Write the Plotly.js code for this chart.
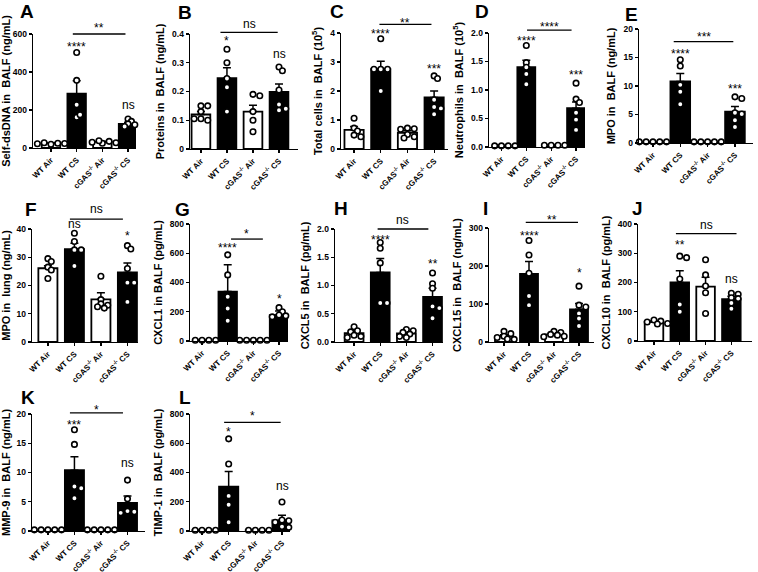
<!DOCTYPE html>
<html><head><meta charset="utf-8">
<script src="https://cdn.plot.ly/plotly-3.0.1.min.js"></script>
<style>body{margin:0;background:#fff}</style>
</head><body><div id="chart" style="width:758px;height:572px"></div>
<script>
// ---------- categories ----------
const groups = ['WT Air', 'WT CS', 'cGAS<sup>-/-</sup> Air', 'cGAS<sup>-/-</sup> CS'];
const letters = ['A','B','C','D','E','F','G','H','I','J','K','L'];
const yTitles = [
  'Self-dsDNA in  BALF (ng/mL)', 'Proteins in  BALF (ng/mL)', 'Total cells in  BALF (10<sup>5</sup>)',
  'Neutrophils in  BALF (10<sup>5</sup>)', 'MPO in  BALF (ng/mL)', 'MPO in  lung (ng/mL)',
  'CXCL1 in BALF (pg/mL)', 'CXCL5 in  BALF (pg/mL)', 'CXCL15 in  BALF (ng/mL)',
  'CXCL10 in  BALF (pg/mL)', 'MMP-9 in  BALF (ng/mL)', 'TIMP-1 in  BALF (pg/mL)'
];
const tickVals = [
  [0,200,400,600], [0,0.1,0.2,0.3,0.4], [0,1,2,3,4], [0,0.5,1,1.5,2], [0,5,10,15,20],
  [0,10,20,30,40], [0,200,400,600,800], [0,0.5,1,1.5,2], [0,100,200,300], [0,100,200,300,400],
  [0,5,10,15,20], [0,200,400,600,800]
];
const tickText = [
  ['0','200','400','600'], ['0','0.1','0.2','0.3','0.4'], ['0','1','2','3','4'], ['0.0','0.5','1.0','1.5','2.0'], ['0','5','10','15','20'],
  ['0','10','20','30','40'], ['0','200','400','600','800'], ['0.0','0.5','1.0','1.5','2.0'], ['0','100','200','300'], ['0','100','200','300','400'],
  ['0','5','10','15','20'], ['0','200','400','600','800']
];
// bar fill per group (Air open, CS filled)
const barFill = ['#ffffff', '#000000', '#ffffff', '#000000'];

// ---------- values: bar means ----------
const meanA = [25, 286, 32, 127];
const meanB = [0.12, 0.246, 0.13, 0.199];
const meanC = [0.66, 2.75, 0.56, 1.78];
const meanD = [0.02, 1.4, 0.03, 0.68];
const meanE = [0.2, 10.8, 0.2, 5.5];
const meanF = [26.1, 32.9, 15.1, 24.6];
const meanG = [5, 338, 5, 177];
const meanH = [0.155, 1.23, 0.15, 0.8];
const meanI = [15, 179, 20, 86];
const meanJ = [65, 200, 186, 143];
const meanK = [0.2, 10.4, 0.2, 4.8];
const meanL = [5, 303, 5, 73];

// ---------- values: SEM (upper error) ----------
const semA = [3, 68, 4, 8];
const semB = [0.01, 0.037, 0.022, 0.027];
const semC = [0.12, 0.28, 0.07, 0.22];
const semD = [0.005, 0.12, 0.005, 0.11];
const semE = [0, 1.4, 0, 0.9];
const semF = [0.9, 2.1, 2.3, 3.4];
const semG = [0, 183, 0, 28];
const semH = [0.03, 0.25, 0.02, 0.15];
const semI = [4, 33, 3, 15];
const semJ = [3, 40, 32, 10];
const semK = [0, 2.3, 0, 1.2];
const semL = [0, 103, 0, 35];

// ---------- values: individual points ----------
const ptsA = [[20,25,28,24,22], [503,356,228,162,175], [25,35,38,30,28], [153,140,127,122,113]];
const ptsB = [[0.15,0.15,0.13,0.105,0.10,0.105], [0.347,0.30,0.245,0.215,0.13], [0.19,0.185,0.13,0.10,0.06], [0.285,0.272,0.205,0.135,0.14,0.155]];
const ptsC = [[1.06,0.72,0.62,0.48,0.42], [3.8,2.75,2.75,2.75,2.0], [0.72,0.7,0.68,0.5,0.42,0.38], [2.52,2.43,1.7,1.45,1.4,1.2]];
const ptsD = [[0.02,0.02,0.02,0.02,0.02], [1.78,1.48,1.4,1.28,1.1], [0.03,0.03,0.03,0.03], [1.12,0.84,0.78,0.6,0.48,0.3]];
const ptsE = [[0.2,0.2,0.2,0.2,0.2], [14.6,13.5,10.2,9.0,6.8], [0.2,0.2,0.2,0.2,0.2], [8.1,7.8,5.3,5.1,4.0,2.8]];
const ptsF = [[29.5,28.5,26.5,25.5,22.5], [38.5,35.6,32.6,32.6,26.9], [23.3,15.0,13.5,13.0,12.5,12.0], [34.1,32.9,26.0,21.0,21.0,14.2]];
const ptsG = [[5,5,5,5,5], [589,452,303,222,138], [5,5,5,5,5], [228,200,178,172,165,160]];
const ptsH = [[0.27,0.2,0.18,0.12,0.1,0.08], [1.66,1.76,1.4,0.69,0.69], [0.22,0.2,0.17,0.14,0.1,0.08], [1.22,1.03,0.95,0.63,0.6,0.42]];
const ptsI = [[28,22,15,12,8,7], [267,229,181,121,97], [28,25,20,18,15,14], [147,97,92,75,62,42]];
const ptsJ = [[72,68,65,60,58], [290,285,212,125,100], [278,226,188,165,94], [163,160,148,145,130,110]];
const ptsK = [[0.2,0.2,0.2,0.2,0.2], [17.3,14.8,7.6,7.3,5.6], [0.2,0.2,0.2,0.2,0.2], [8.7,5.5,3.4,3.3,3.1]];
const ptsL = [[5,5,5,5,5], [630,458,240,180,60], [5,5,5,5], [198,75,70,60,30,25]];

// ---------- significance labels ----------
const sigWT   = [['****',550],['*',0.385],['****',4.06],['****',1.91],['****',16.1],['ns',41.5],['****',658],['****',1.86],['****',287],['**',337],['***',18.7],['*',697]];
const sigKO   = [['ns',220],['ns',0.327],['***',2.87],['***',1.31],['***',10.0],['*',38.6],['*',307],['**',1.44],['*',190],['ns',209],['ns',11.5],['ns',298]];
const bracket = [[0.85,2.9,600],[0.75,2.95,0.406],[0.95,2.9,4.3],[1.03,2.82,2.05],[0.76,2.94,17.8],[0.83,2.83,43.5],[1.13,2.37,697],[0.9,2.84,2.0],[0.87,2.96,315],[0.85,3.2,367],[0.83,2.83,20.2],[0.83,2.95,743]];
const sigBr   = [['**',650],['ns',0.43],['**',4.45],['****',2.16],['***',19.1],['ns',46.6],['*',750],['ns',2.14],['**',328],['ns',392],['*',21.2],['*',807]];

const means = [meanA,meanB,meanC,meanD,meanE,meanF,meanG,meanH,meanI,meanJ,meanK,meanL];
const sems  = [semA,semB,semC,semD,semE,semF,semG,semH,semI,semJ,semK,semL];
const pts   = [ptsA,ptsB,ptsC,ptsD,ptsE,ptsF,ptsG,ptsH,ptsI,ptsJ,ptsK,ptsL];

// ---------- layout geometry (pixels): [left, right, top, bottom] of each plot area ----------
const W = 758, H = 572;
const boxes = [
  [33,136,34,148],[190,298,34,149],[341,448,33,149],[489,585,33,147],[639,753,29,143],
  [32,138,229,342],[190,288,224,341],[335,443,229,342],[489,594,228,342],[638,752,224,341],
  [32,145,414,531],[190,290,414,531]
];
// x-axis ranges (category units) per panel
const xRanges = [
  [-0.70,3.31],[-0.42,3.73],[-0.49,3.52],[-0.50,3.36],[-0.51,3.66],
  [-0.60,3.40],[-0.47,3.35],[-0.73,3.40],[-0.60,3.60],[-0.62,3.80],
  [-0.60,3.66],[-0.45,3.30]
];
const letterPos = [[27,12],[185,13],[337,12],[482,12],[631,14],[31,210],[182,210],[341,208],[485,208],[637,208],[28,397],[185,397]];
const FONT = 'Liberation Sans, Arial, Helvetica, sans-serif';

function swarm(vals, pxX, pxY) {
  const placed = [], out = [];
  const d = 3.4, minD = 4.2;
  const cand = [0,1,-1,2,-2,3,-3,4,-4];
  vals.forEach(v => {
    const py = v * pxY;
    let off = 0;
    for (const c of cand) {
      const px = c * d;
      if (placed.every(q => Math.hypot(q[0]-px, q[1]-py) >= minD)) { off = px; break; }
    }
    placed.push([off, py]);
    out.push(off / pxX);
  });
  return out;
}

const data = [];
const layout = {
  width: W, height: H, margin: {l:0, r:0, t:0, b:0},
  paper_bgcolor: '#fff', plot_bgcolor: 'rgba(0,0,0,0)', showlegend: false,
  font: {family: FONT, color: '#000'},
  annotations: [], shapes: []
};

for (let i = 0; i < 12; i++) {
  const s = i === 0 ? '' : String(i + 1);
  const xa = 'x' + s, ya = 'y' + s;
  const [l, r, t, b] = boxes[i];
  const XR = xRanges[i];
  const ymax = tickVals[i][tickVals[i].length - 1];
  const pxX = (r - l) / (XR[1] - XR[0]);
  const pxY = (b - t) / ymax;

  layout['xaxis' + s] = {
    domain: [l / W, r / W], range: XR, anchor: ya,
    tickmode: 'array', tickvals: [0,1,2,3], ticktext: groups, tickangle: -45,
    ticks: 'outside', ticklen: 3, tickwidth: 1.2, tickcolor: '#000',
    showline: true, linecolor: '#000', linewidth: 1.4,
    showgrid: false, zeroline: false, fixedrange: true,
    tickfont: {family: FONT, size: 8, color: '#000', weight: 'bold'}
  };
  layout['yaxis' + s] = {
    domain: [1 - b / H, 1 - t / H], range: [0, ymax], anchor: xa,
    tickmode: 'array', tickvals: tickVals[i], ticktext: tickText[i],
    ticks: 'outside', ticklen: 3, tickwidth: 1.2, tickcolor: '#000',
    showline: true, linecolor: '#000', linewidth: 1.4,
    showgrid: false, zeroline: false, fixedrange: true,
    tickfont: {family: FONT, size: 8.5, color: '#000', weight: 'bold'},
    title: {text: yTitles[i], font: {family: FONT, size: 11, color: '#000', weight: 'bold'}, standoff: 5}
  };

  data.push({
    type: 'bar', x: [0,1,2,3], y: means[i], xaxis: xa, yaxis: ya, width: 0.72,
    marker: {color: barFill, line: {color: '#000', width: 1.8}},
    error_y: {type: 'data', symmetric: false, array: sems[i], arrayminus: [0,0,0,0], color: '#000', thickness: 1.5, width: 4},
    hoverinfo: 'skip'
  });

  pts[i].forEach((g, gi) => {
    const offs = swarm(g, pxX, pxY);
    data.push({
      type: 'scatter', mode: 'markers', xaxis: xa, yaxis: ya, cliponaxis: false,
      x: g.map((v, k) => gi + offs[k]), y: g,
      marker: {symbol: 'circle', size: 5.5, color: '#fff', line: {color: '#000', width: 1.6}},
      hoverinfo: 'skip'
    });
  });

  const star = (txt, x, yv) => {
    const isStar = txt.indexOf('*') >= 0;
    layout.annotations.push({
      text: txt, xref: xa, yref: ya + ' domain', x: x, y: yv / ymax,
      xanchor: 'center', yanchor: 'middle', showarrow: false,
      yshift: isStar ? -3 : 1,
      font: {family: FONT, size: 12, color: '#000'}
    });
  };
  star(sigWT[i][0], 1, sigWT[i][1]);
  star(sigKO[i][0], 3, sigKO[i][1]);
  const br = bracket[i];
  layout.shapes.push({type: 'line', xref: xa, yref: ya + ' domain', x0: br[0], x1: br[1], y0: br[2] / ymax, y1: br[2] / ymax, line: {color: '#000', width: 1.3}});
  star(sigBr[i][0], (br[0] + br[1]) / 2, sigBr[i][1]);

  layout.annotations.push({
    text: letters[i], xref: 'paper', yref: 'paper', x: letterPos[i][0] / W, y: 1 - letterPos[i][1] / H,
    xanchor: 'center', yanchor: 'middle', showarrow: false,
    font: {family: FONT, size: 19, color: '#000', weight: 'bold'}
  });
}

Plotly.newPlot('chart', data, layout, {displayModeBar: false, staticPlot: true});
</script>
</body></html>
